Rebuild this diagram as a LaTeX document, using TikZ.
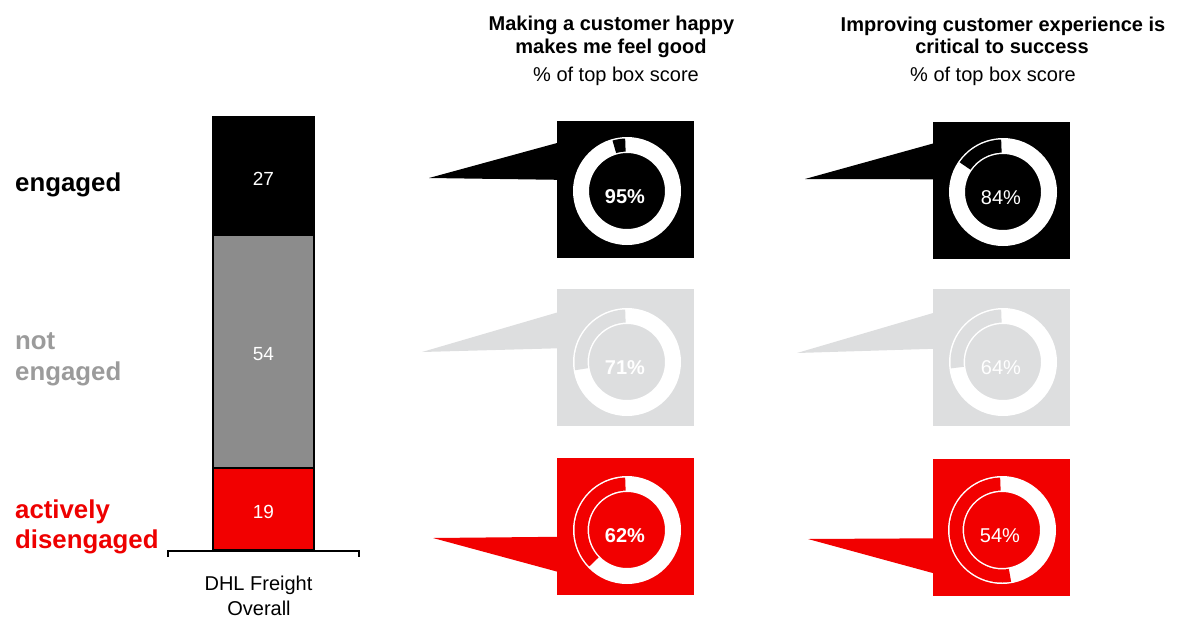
\documentclass[tikz,border=0pt]{standalone}
\usepackage{fontspec}
\setmainfont{Liberation Sans}
\usetikzlibrary{calc}
\definecolor{dhlred}{RGB}{242,0,0}
\definecolor{labred}{RGB}{238,0,0}
\definecolor{bargray}{RGB}{140,140,140}
\definecolor{labgray}{RGB}{155,155,155}
\definecolor{boxgray}{RGB}{221,222,223}
\tikzset{
  calbox/.style={rectangle, minimum width=137pt, minimum height=137pt, inner sep=0pt, draw=none},
  barseg/.style={rectangle, draw=black, line width=1.2pt, minimum width=101pt, inner sep=0pt},
  pctbold/.style={text=white, font=\fontsize{20}{24}\selectfont\bfseries, inner sep=0pt},
  pctreg/.style={text=white, font=\fontsize{20}{24}\selectfont, inner sep=0pt},
  ttl/.style={anchor=base, inner sep=0pt, font=\fontsize{20}{24}\selectfont\bfseries},
  sub/.style={anchor=base, inner sep=0pt, font=\fontsize{20}{24}\selectfont},
  lab/.style={anchor=base west, inner sep=0pt, font=\fontsize{25.8}{30}\selectfont\bfseries},
  barnum/.style={anchor=base, inner sep=0pt, text=white, font=\fontsize{19}{22}\selectfont},
}
% name, cx, cy, colour, tipx, tipy, attach1 offset, attach2 offset
\newcommand\callout[8]{%
  \node[calbox, fill=#4] (#1) at (#2,#3) {};
  \coordinate (#1tip) at (#5,#6);
  \fill[#4] ($(#1.north west)+(1,#7)$) -- (#1tip) -- ($(#1.north west)+(1,#8)$) -- cycle;
}
% name, cx, cy, bg colour, unfilled sweep, label, style
\newcommand\donut[7]{%
  \coordinate (#1) at (#2,#3);
  \fill[white, even odd rule] (#1) circle[radius=54] (#1) circle[radius=38];
  \fill[#4] ($(#1)+(-92:52.5)$) arc[start angle=-92, end angle={-90-#5+2}, radius=52.5]
     -- ($(#1)+({-90-#5+2}:39.5)$) arc[start angle={-90-#5+2}, end angle=-92, radius=39.5] -- cycle;
  \node[#7, anchor=base] (#1t) at ($(#1)+(-2,12)$) {#6};
}
\begin{document}
\begin{tikzpicture}[x=1pt, y=-1pt]
\useasboundingbox (0,0) rectangle (1186,619);

% titles
\node[ttl] (t1a) at (611.5,30.7) {Making a customer happy};
\node[ttl] (t1b) at (611,53.3) {makes me feel good};
\node[sub] (t1c) at (616,81) {\% of top box score};
\node[ttl] (t2a) at (1003,31) {Improving customer experience is};
\node[ttl] (t2b) at (1002,53.3) {critical to success};
\node[sub] (t2c) at (993,81) {\% of top box score};

% left labels
\node[lab, text=black] (l1) at (15,191) {engaged};
\node[lab, text=labgray] (l2a) at (15,349) {not};
\node[lab, text=labgray] (l2b) at (15,380) {engaged};
\node[lab, text=labred] (l3a) at (15,518) {actively};
\node[lab, text=labred] (l3b) at (15,548) {disengaged};

% stacked bar
\node[barseg, fill=black, minimum height=118pt] (sb1) at (263.5,176) {};
\node[barseg, fill=bargray, minimum height=233pt] (sb2) at (263.5,351.5) {};
\node[barseg, fill=dhlred, minimum height=82pt] (sb3) at (263.5,509) {};
\node[barnum] (n1) at (263.5,185) {27};
\node[barnum] (n2) at (263.5,360) {54};
\node[barnum] (n3) at (263.5,518) {19};

% axis bracket
\coordinate (axl) at (168,557);
\coordinate (axr) at (359,557);
\draw[line width=1.5pt] (axl) -- ++(0,-6) -| (axr);
\node[sub, anchor=base] (cat1) at (258.5,590) {DHL Freight};
\node[sub, anchor=base] (cat2) at (259,615) {Overall};

% column 1 callouts
\callout{c11}{625.5}{189.5}{black}{429}{178}{22}{59}
\callout{c12}{625.5}{357}{boxgray}{422}{352}{24}{60}
\callout{c13}{625.5}{526.5}{dhlred}{433}{538}{79}{114}
% column 2 callouts
\callout{c21}{1001.5}{190}{black}{805}{179}{22}{58}
\callout{c22}{1001.5}{357.5}{boxgray}{797}{353}{24}{60}
\callout{c23}{1001.5}{527}{dhlred}{808}{539}{80}{115}

% donuts
\donut{d11}{627}{191}{black}{18}{95\%}{pctbold}
\donut{d12}{627}{362}{boxgray}{101}{71\%}{pctbold}
\donut{d13}{627}{530}{dhlred}{136}{62\%}{pctbold}
\donut{d21}{1003}{192}{black}{57.6}{84\%}{pctreg}
\donut{d22}{1003}{362}{boxgray}{99}{64\%}{pctreg}
\donut{d23}{1002}{530}{dhlred}{192}{54\%}{pctreg}
\end{tikzpicture}
\end{document}
